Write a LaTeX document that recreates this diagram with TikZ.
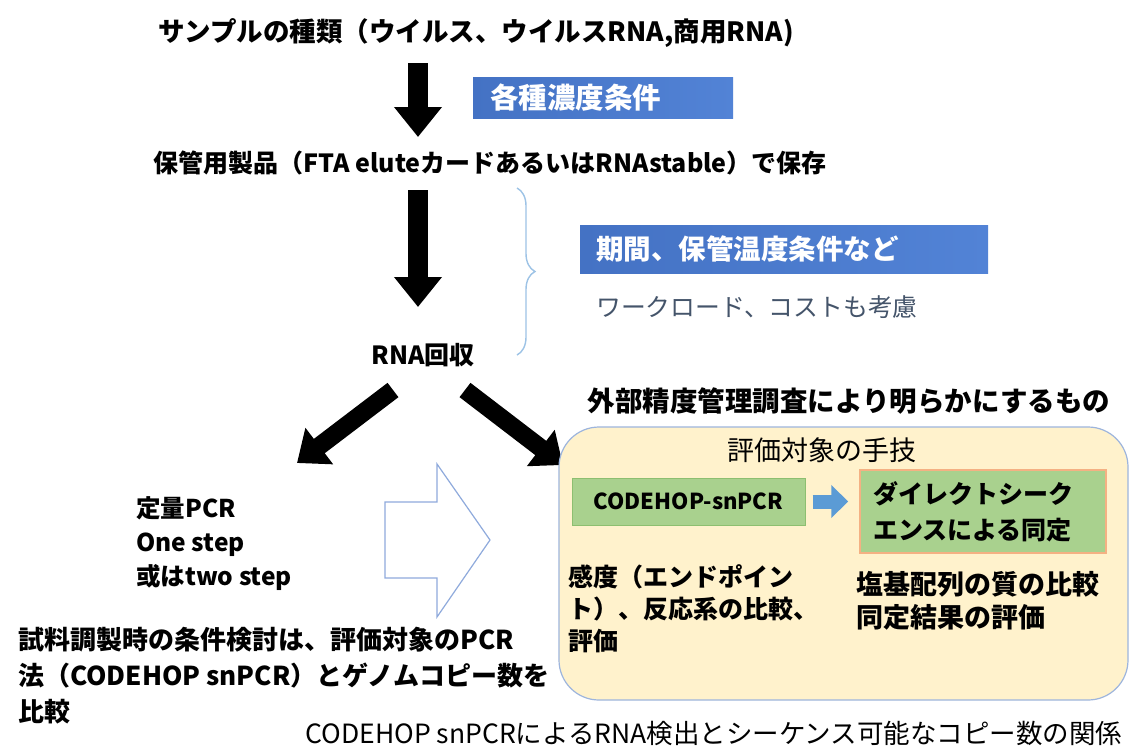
\documentclass[tikz,border=0pt]{standalone}
\usepackage{fontspec}
\setmainfont{Noto Sans CJK JP}
\usetikzlibrary{arrows.meta,decorations.pathreplacing}
\definecolor{bluebox}{HTML}{4472C4}
\definecolor{bluebox2}{HTML}{5283D6}
\definecolor{slate}{HTML}{44546A}
\definecolor{pale}{HTML}{FFF2CC}
\definecolor{paleedge}{HTML}{9DB5DD}
\definecolor{greenfill}{HTML}{A9D18E}
\definecolor{greenedge}{HTML}{8DBF70}
\definecolor{orangeedge}{HTML}{F4B183}
\definecolor{arrowblue}{HTML}{5B9BD5}
\definecolor{bracecol}{HTML}{9DC3E6}
\definecolor{hollowcol}{HTML}{8FAADC}
\newcommand{\fsz}[2]{\fontsize{#1}{#2}\selectfont}
\begin{document}
\begin{tikzpicture}[x=1pt,y=-1pt,
  txt/.style={inner sep=0pt, font=\bfseries\fsz{25}{30}},
  bigarrow/.style={line width=20pt, -{Triangle[width=46pt,length=30pt]}},
  bluelabel/.style={left color=bluebox, right color=bluebox2, draw=none, text=white,
     font=\bfseries\fsz{27.5}{30}, align=left, inner ysep=0pt, anchor=west},
  greenbox/.style={fill=greenfill, draw=greenedge, line width=1pt, font=\bfseries\fsz{22}{36}, inner sep=0pt}
]
\useasboundingbox[fill=white] (0,0) rectangle (1135,748);

% top part
\node[txt, font=\bfseries\fsz{26.5}{30}] (title) at (476,33) {サンプルの種類（ウイルス、ウイルスRNA,商用RNA)};
\coordinate (a1s) at (418,63);
\coordinate (a1e) at (418,137);
\draw[bigarrow] (a1s) -- (a1e);
\node[bluelabel, font=\bfseries\fsz{28.5}{30}, minimum height=41pt, inner xsep=17pt, text width=226pt] (conc) at (473,97.5) {各種濃度条件};

\node[txt] (store) at (490,163) {保管用製品（FTA eluteカードあるいはRNAstable）で保存};
\coordinate (a2s) at (418,190);
\coordinate (a2e) at (418,307);
\draw[bigarrow] (a2s) -- (a2e);

\coordinate (brt) at (517,188);
\coordinate (brb) at (517,355);
\draw[bracecol, line width=1.4pt, decorate, decoration={brace, amplitude=18pt}] (brt) -- (brb);

\node[bluelabel, minimum height=48pt, inner xsep=16pt, text width=376pt] (period) at (580,249) {期間、保管温度条件など};
\node[inner sep=0pt, anchor=west, text=slate, font=\fsz{24.8}{30}] (work) at (596,307) {ワークロード、コストも考慮};

\node[txt] (rna) at (423,355) {RNA回収};

\coordinate (dls) at (393,390);
\coordinate (dle) at (297,463);
\coordinate (drs) at (465,390);
\coordinate (dre) at (563,465);
\draw[line width=18pt, -{Triangle[width=44pt,length=28pt]}] (dls) -- (dle);
\draw[line width=18pt, -{Triangle[width=44pt,length=28pt]}] (drs) -- (dre);

% right panel
\node[txt, font=\bfseries\fsz{27.5}{30}] (eqa) at (849,401) {外部精度管理調査により明らかにするもの};
\node[fill=pale, draw=paleedge, line width=1.2pt, rounded corners=40pt,
      minimum width=569pt, minimum height=273pt, inner sep=0pt] (panel) at (843.5,563.5) {};
\node[inner sep=0pt, font=\fsz{27}{30}] (tech) at (822,450) {評価対象の手技};
\node[greenbox, minimum width=233pt, minimum height=47pt] (codehop) at (688.5,501.5) {CODEHOP-snPCR};
\node[greenbox, draw=orangeedge, line width=1.5pt, minimum width=246pt, minimum height=83pt,
      align=left, text width=220pt, inner xsep=13pt, font=\bfseries\fsz{25}{36}] (dseq) at (983,511.5)
      {ダイレクトシーク\\エンスによる同定};
\draw[arrowblue, line width=14pt, -{Triangle[width=32pt,length=17pt]}, shorten <=7pt, shorten >=11pt]
      (codehop.east) -- (codehop.east -| dseq.west);
\node[txt, anchor=west, align=left, font=\bfseries\fsz{25}{32}] (sens) at (568,609)
      {感度（エンドポイン\\ト）、反応系の比較、\\評価};
\node[txt, anchor=west, align=left, font=\bfseries\fsz{27}{33}] (seqq) at (856,601)
      {塩基配列の質の比較\\同定結果の評価};

% left part
\node[txt, anchor=west, align=left, font=\bfseries\fsz{24.5}{34}] (qpcr) at (136,544)
      {定量PCR\\One step\\或はtwo step};
\draw[hollowcol, line width=1.2pt, fill=white]
  (385,502) -- (437,502) -- (437,464) -- (490,540) -- (437,617) -- (437,578) -- (385,578) -- cycle;
\node[txt, anchor=west, align=left, font=\bfseries\fsz{26}{36}] (cond) at (18,676)
      {試料調製時の条件検討は、評価対象のPCR\\法（CODEHOP snPCR）とゲノムコピー数を\\比較};
\node[inner sep=0pt, font=\fsz{26.5}{30}] (bottom) at (714,733)
      {CODEHOP snPCRによるRNA検出とシーケンス可能なコピー数の関係};
\end{tikzpicture}
\end{document}
